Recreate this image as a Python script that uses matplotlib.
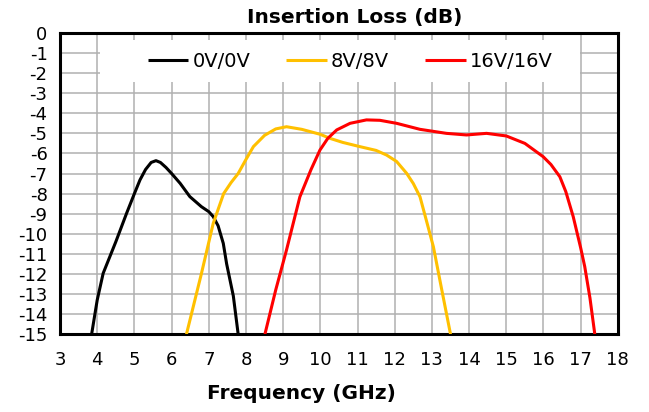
import matplotlib
matplotlib.use("Agg")
import matplotlib.pyplot as plt
from matplotlib.patches import Rectangle

plt.rcParams['axes.unicode_minus'] = False
plt.rcParams['font.family'] = 'DejaVu Sans'

f_0v = [3.85, 4.0, 4.16, 4.5, 4.79, 5.0, 5.15, 5.3, 5.45, 5.58, 5.7, 5.85, 6.0, 6.23, 6.49, 6.8, 7.0, 7.12, 7.25, 7.39, 7.48, 7.66, 7.79]
il_0v = [-15.0, -13.3, -11.97, -10.4, -8.98, -8.0, -7.32, -6.8, -6.45, -6.36, -6.45, -6.7, -7.0, -7.49, -8.15, -8.65, -8.9, -9.15, -9.6, -10.48, -11.5, -13.1, -15.0]

f_8v = [6.4, 6.8, 7.12, 7.4, 7.6, 7.79, 8.0, 8.2, 8.5, 8.8, 9.09, 9.5, 10.0, 10.26, 10.6, 11.06, 11.5, 11.78, 12.05, 12.32, 12.5, 12.68, 12.86, 13.04, 13.25, 13.5]
il_8v = [-15.0, -12.0, -9.48, -8.0, -7.45, -7.0, -6.3, -5.66, -5.1, -4.78, -4.67, -4.8, -5.05, -5.25, -5.45, -5.66, -5.85, -6.08, -6.4, -6.99, -7.5, -8.16, -9.4, -10.65, -12.65, -15.0]

f_16v = [8.51, 8.8, 9.09, 9.45, 9.75, 9.99, 10.2, 10.44, 10.8, 11.24, 11.6, 12.05, 12.68, 13.39, 13.93, 14.47, 15.0, 15.5, 15.99, 16.2, 16.44, 16.6, 16.8, 17.0, 17.11, 17.25, 17.38]
il_16v = [-15.0, -12.8, -10.81, -8.16, -6.8, -5.83, -5.25, -4.83, -4.5, -4.33, -4.35, -4.5, -4.8, -5.0, -5.08, -5.0, -5.13, -5.5, -6.16, -6.55, -7.16, -7.9, -9.15, -10.7, -11.64, -13.2, -15.0]

labels = ['0V/0V', '8V/8V', '16V/16V']
colors = ['black', '#FFC000', '#FF0000']

fig = plt.figure(figsize=(6.49, 4.12), dpi=100)
ax = fig.add_axes([0.0925, 0.189, 0.8595, 0.731])

for fx, il, lab, c in zip([f_0v, f_8v, f_16v], [il_0v, il_8v, il_16v], labels, colors):
    ax.plot(fx, il, color=c, lw=2.2, label=lab, solid_joinstyle='round', solid_capstyle='butt', zorder=3)

ax.set_xlim(3, 18)
ax.set_ylim(-15, 0)
ax.set_xticks(range(3, 19))
ax.set_yticks(range(-15, 1))
ax.grid(True, color='#b0b0b0', lw=1.1)
ax.set_axisbelow(True)
ax.tick_params(length=0, labelsize=13)
ax.tick_params(axis='x', pad=12)
ax.tick_params(axis='y', pad=9)
for s in ax.spines.values():
    s.set_linewidth(2.2)
    s.set_color('black')

ax.set_title('Insertion Loss (dB)', fontsize=14.5, fontweight='bold', x=0.529, pad=7)
ax.set_xlabel('Frequency (GHz)', fontsize=14.5, fontweight='bold')
ax.xaxis.set_label_coords(0.432, -0.165)

# white backing behind the legend, hiding the grid there
ax.add_patch(Rectangle((0.072, 0.837), 0.86, 0.14, transform=ax.transAxes,
                       facecolor='white', edgecolor='none', zorder=1))
leg = ax.legend(loc='center', bbox_to_anchor=(0.52, 0.905), ncol=3, fontsize=14,
                frameon=False, handlelength=2.1, handletextpad=0.2, columnspacing=1.85)

fig.savefig('out.png', dpi=100)
